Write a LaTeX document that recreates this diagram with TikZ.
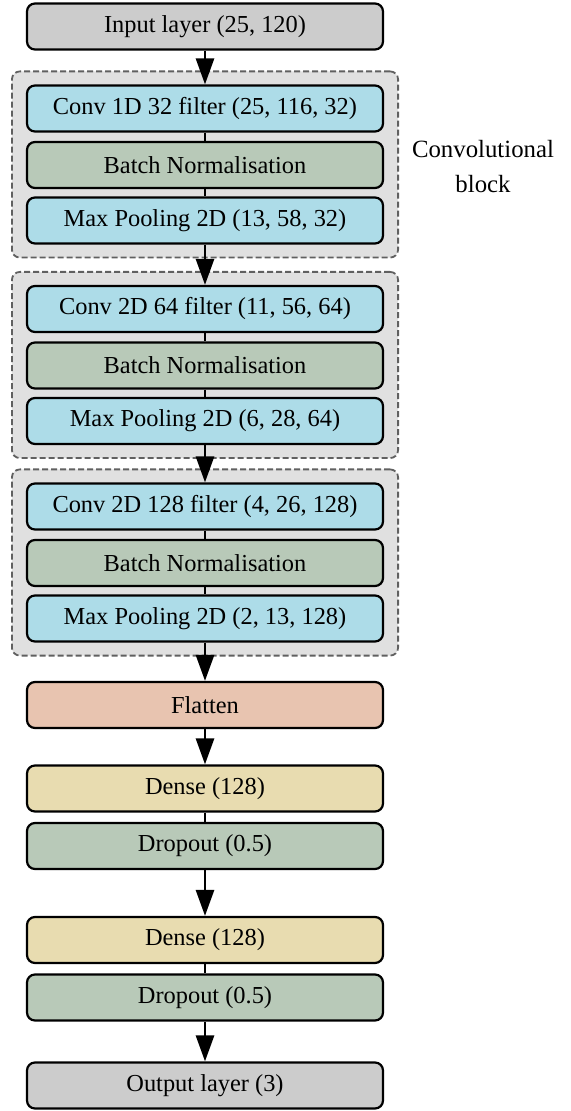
\documentclass[tikz,border=0pt]{standalone}
\usepackage{fontspec}
\setmainfont{Liberation Serif}
\usetikzlibrary{arrows.meta,fit,backgrounds}
\definecolor{iogray}{RGB}{204,204,204}
\definecolor{convblue}{RGB}{173,220,232}
\definecolor{bngreen}{RGB}{184,201,184}
\definecolor{flatsalmon}{RGB}{232,196,176}
\definecolor{denseyellow}{RGB}{232,220,176}
\definecolor{blockgray}{RGB}{224,224,224}
\definecolor{dashgray}{RGB}{96,96,96}
\tikzset{%
  layer/.style={
    draw=black,
    line width=1.1pt,
    rounded corners=4pt,
    minimum width=178pt,
    minimum height=23pt,
    inner sep=0pt,
    font=\fontsize{12.2}{14}\selectfont
  },
  convblock/.style={
    draw=dashgray,
    fill=blockgray,
    line width=0.9pt,
    dash pattern=on 3pt off 1.5pt,
    rounded corners=4pt,
    inner xsep=7pt,
    inner ysep=6.5pt
  },
  flow/.style={-{Triangle[length=13pt,width=9pt]}, line width=1.4pt},
  link/.style={line width=1.4pt},
}

\begin{document}
\begin{tikzpicture}[x=0.5pt, y=-0.5pt]

\useasboundingbox (0,0) rectangle (571,1111);

% input layer
\node [layer, fill=iogray] (input) at (205,26.5) {Input layer (25, 120)};

% convolutional blocks
\foreach \i/\c/\p/\y in {1/{Conv 1D 32 filter (25, 116, 32)}/{Max Pooling 2D (13, 58, 32)}/108.5,
                         2/{Conv 2D 64 filter (11, 56, 64)}/{Max Pooling 2D (6, 28, 64)}/309,
                         3/{Conv 2D 128 filter (4, 26, 128)}/{Max Pooling 2D (2, 13, 128)}/506.5}
{
  \node [layer, fill=convblue] (conv-\i) at (205,\y) {\c};
  \node [layer, fill=bngreen] (bn-\i) at (205,\y+56.5) {Batch Normalisation};
  \node [layer, fill=convblue] (pool-\i) at (205,\y+112) {\p};
}

% dense part
\node [layer, fill=flatsalmon] (flatten) at (205,705) {Flatten};

\foreach \m/\y in {1/788.5,2/940}
{
  \node [layer, fill=denseyellow] (dense-\m) at (205,\y) {Dense (128)};
  \node [layer, fill=bngreen] (drop-\m) at (205,\y+57.5) {Dropout (0.5)};
}

% output layer
\node [layer, fill=iogray] (output) at (205,1085.5) {Output layer (3)};

%%%%%%%%%%%%%%%%%%%%%%%%%%%%%%%%%%%%%%%%%%%%%%%%%%%%%%%%%%%%%%%%%%%%%%%%%%%%%
% blocks

\begin{scope}[on background layer]
\foreach \i in {1,2,3}
  \node [convblock, fit=(conv-\i)(pool-\i)] (block-\i) {};
\end{scope}

\node [align=center, font=\fontsize{12.4}{17.5}\selectfont] (blocklabel) at (483,167)
  {Convolutional\\block};

%%%%%%%%%%%%%%%%%%%%%%%%%%%%%%%%%%%%%%%%%%%%%%%%%%%%%%%%%%%%%%%%%%%%%%%%%%%%%
% connections

\foreach \i in {1,2,3}
{
  \draw [link] (conv-\i) -- (bn-\i);
  \draw [link] (bn-\i) -- (pool-\i);
}

\draw [flow] (input) -- (conv-1);
\draw [flow] (pool-1) -- (conv-2);
\draw [flow] (pool-2) -- (conv-3);
\draw [flow] (pool-3) -- (flatten);
\draw [flow] (flatten) -- (dense-1);

\foreach \m in {1,2}
  \draw [link] (dense-\m) -- (drop-\m);

\draw [flow] (drop-1) -- (dense-2);
\draw [flow] (drop-2) -- (output);

\end{tikzpicture}
\end{document}
